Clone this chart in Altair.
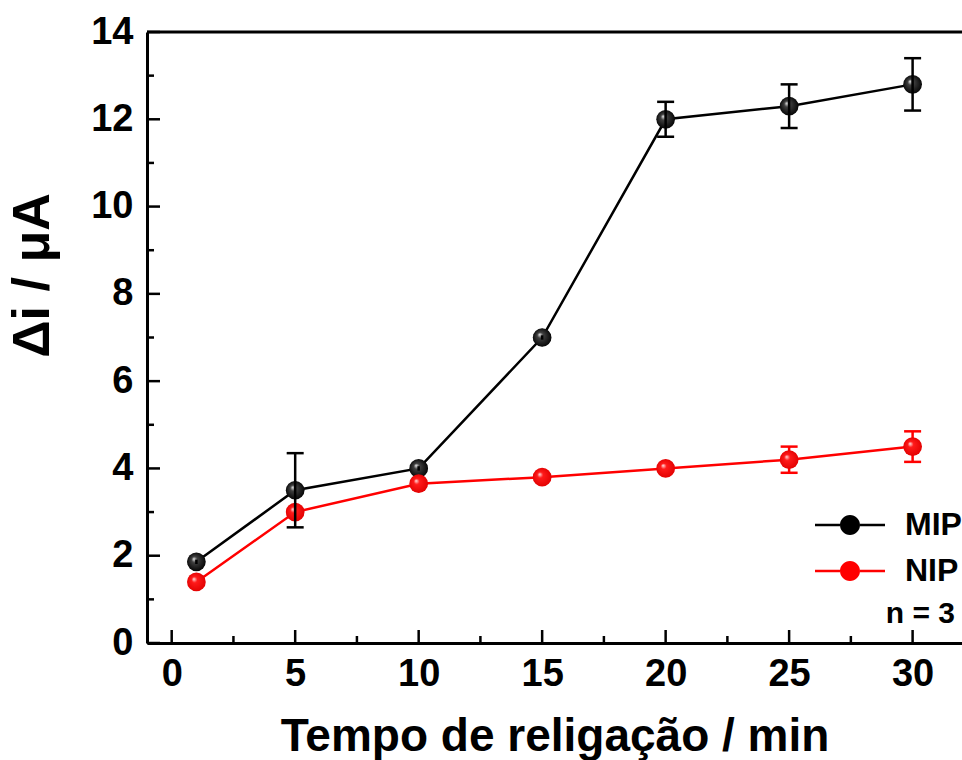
import altair as alt
import pandas as pd

# ---- data ----
tempo = [1, 5, 10, 15, 20, 25, 30]
mip = [1.86, 3.5, 4.0, 7.0, 12.0, 12.3, 12.8]
mip_err = [0.05, 0.85, 0.05, 0.05, 0.4, 0.5, 0.6]
nip = [1.4, 3.0, 3.65, 3.8, 4.0, 4.2, 4.5]
nip_err = [0.05, 0.05, 0.05, 0.05, 0.05, 0.3, 0.35]
series = ["MIP", "NIP"]
x_major = [0, 5, 10, 15, 20, 25, 30]
x_minor = [2.5, 7.5, 12.5, 17.5, 22.5, 27.5]
y_major = [0, 2, 4, 6, 8, 10, 12, 14]
y_minor = [1, 3, 5, 7, 9, 11, 13]

FONT = "Liberation Sans"
W, H = 815, 611

rows = []
for s, vals, errs in (("MIP", mip, mip_err), ("NIP", nip, nip_err)):
    for t, v, e in zip(tempo, vals, errs):
        rows.append({"serie": s, "t": t, "v": v, "lo": v - e, "hi": v + e})
df = pd.DataFrame(rows)
caps = pd.concat([df.assign(c=df["lo"]), df.assign(c=df["hi"])])

xs = alt.Scale(domain=[-1, 32], nice=False, zero=False)
ys = alt.Scale(domain=[0, 14], nice=False)
cs = alt.Scale(domain=series, range=["black", "red"])

X = alt.X("t:Q", scale=xs, axis=alt.Axis(
    values=x_major, title="Tempo de religação / min", ticks=False, tickSize=0,
    grid=False, labelFont=FONT, labelFontSize=38, labelFontWeight="bold",
    labelColor="black", labelPadding=12, domainColor="black", domainWidth=3,
    titleFont=FONT, titleFontSize=46, titleFontWeight="bold", titleColor="black",
    titleBaseline="alphabetic", titleY=107))
Y = alt.Y("v:Q", scale=ys, axis=alt.Axis(
    values=y_major, title="Δi / μA", ticks=False, tickSize=0, grid=False,
    labelFont=FONT, labelFontSize=38, labelFontWeight="bold", labelColor="black",
    labelPadding=14, domainColor="black", domainWidth=3,
    titleFont=FONT, titleFontSize=52, titleFontWeight="bold", titleColor="black",
    titleBaseline="alphabetic", titleX=-99, titleY=243))

# legend glyph: line - ball - line, drawn as filled shapes (unit = 10 px)
legend_path = ("M-3.5,-0.13H-1V0.13H-3.5Z"
               "M1,-0.13H3.5V0.13H1Z"
               "M1,0A1,1,0,1,1,-1,0A1,1,0,1,1,1,0Z")
legend = alt.Legend(
    title=None, orient="none", legendX=687, legendY=477, padding=0,
    symbolType=legend_path, symbolSize=400, symbolStrokeWidth=0,
    symbolOpacity=1, labelOffset=39, rowPadding=14, labelFont=FONT,
    labelFontSize=32, labelFontWeight="bold", labelColor="black")
COLOR = alt.Color("serie:N", scale=cs, legend=legend)


def sphere(light, mid, dark):
    return alt.RadialGradient(
        gradient="radial",
        stops=[alt.GradientStop(offset=0, color=light),
               alt.GradientStop(offset=0.28, color=mid),
               alt.GradientStop(offset=1, color=dark)],
        x1=0.36, y1=0.34, r1=0.0, x2=0.5, y2=0.5, r2=0.55)


grad = {"MIP": sphere("#e8e8e8", "#404040", "#000000"),
        "NIP": sphere("#ffe6e6", "#ff1a1a", "#e00000")}

base = alt.Chart(df)


def line_for(s):
    return base.transform_filter(alt.datum.serie == s).mark_line(strokeWidth=2.5).encode(
        x=X, y=Y, color=COLOR)


def pts_for(s):
    return base.transform_filter(alt.datum.serie == s).mark_circle(
        size=350, opacity=1, fill=grad[s], strokeWidth=0).encode(x=X, y=Y)


def bar_for(s):
    return base.transform_filter(alt.datum.serie == s).mark_rule(
        strokeWidth=2.5, opacity=1).encode(
        x=X, y=alt.Y("lo:Q", scale=ys), y2="hi:Q", color=COLOR)


def cap_for(s):
    return alt.Chart(caps).transform_filter(alt.datum.serie == s).mark_tick(
        orient="horizontal", size=17, thickness=2.5, opacity=1).encode(
        x=X, y=alt.Y("c:Q", scale=ys), color=COLOR)


# plain coloured points underneath the shaded spheres; they carry the legend
carrier = base.mark_point(filled=True, size=300, opacity=1, strokeWidth=0).encode(
    x=X, y=Y, color=COLOR)

ticks = []
for vals, ln in ((x_major, 13), (x_minor, 7)):
    ticks.append(alt.Chart(pd.DataFrame({"t": vals})).mark_rule(
        strokeWidth=2.5, color="black").encode(
        x=alt.X("t:Q", scale=xs), y=alt.value(H), y2=alt.value(H - ln)))
for vals, ln in ((y_major, 13), (y_minor, 7)):
    ticks.append(alt.Chart(pd.DataFrame({"v": vals})).mark_rule(
        strokeWidth=2.5, color="black").encode(
        y=alt.Y("v:Q", scale=ys), x=alt.value(0), x2=alt.value(ln)))

top = alt.Chart(pd.DataFrame({"k": [0]})).mark_rule(
    strokeWidth=3, color="black").encode(
    x=alt.value(0), x2=alt.value(W), y=alt.value(0))

note = alt.Chart(pd.DataFrame({"txt": ["n = 3"]})).mark_text(
    font=FONT, fontSize=30, fontWeight="bold", align="right",
    baseline="alphabetic", color="black").encode(
    text="txt:N", x=alt.value(808), y=alt.value(591))

chart = alt.layer(
    *ticks, top, carrier,
    line_for("MIP"), cap_for("MIP"), pts_for("MIP"),
    line_for("NIP"), bar_for("NIP"), cap_for("NIP"), pts_for("NIP"),
    bar_for("MIP"), note
).properties(
    width=W, height=H,
    autosize=alt.AutoSizeParams(type="none"),
    padding={"left": 147, "top": 32, "right": 0, "bottom": 117},
    background="white",
).configure_view(stroke=None)

chart.save("out.html", embed_options={"renderer": "svg", "actions": False})
